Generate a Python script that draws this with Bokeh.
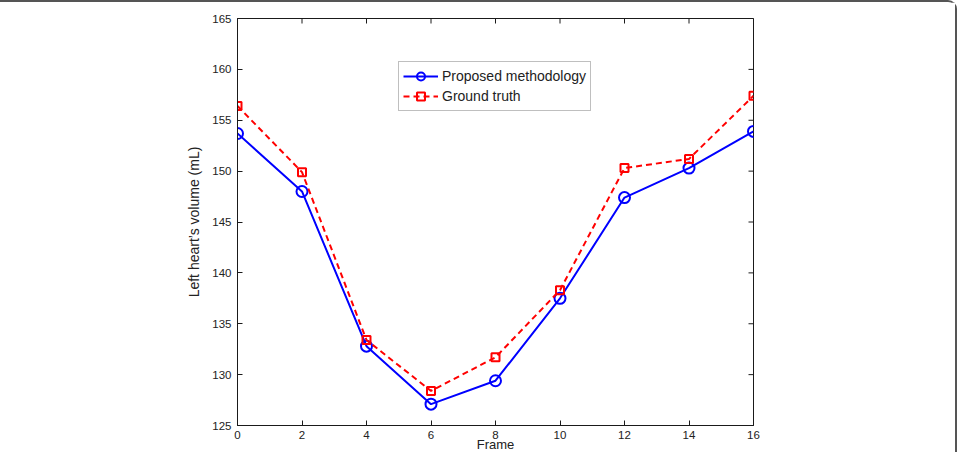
import math
from bokeh.plotting import figure
from bokeh.models import Legend, LegendItem, FixedTicker
from bokeh.embed import file_html
from bokeh.resources import INLINE

frames = [0, 2, 4, 6, 8, 10, 12, 14, 16]
proposed = [153.7, 148.0, 132.8, 127.1, 129.4, 137.5, 147.4, 150.3, 153.9]
ground_truth = [156.4, 149.9, 133.4, 128.4, 131.7, 138.3, 150.3, 151.2, 157.4]
x_ticks = [0, 2, 4, 6, 8, 10, 12, 14, 16]
y_ticks = [125, 130, 135, 140, 145, 150, 155, 160, 165]
x_label = "Frame"
y_label = "Left heart\u2019s volume (mL)"

FONT = "Liberation Sans"
AX = "#1a1a1a"

p = figure(width=957, height=452, output_backend="svg", toolbar_location=None,
           x_range=(0, 16), y_range=(125, 165),
           min_border_left=237, min_border_right=204, min_border_top=16, min_border_bottom=28)
p.styles = {"border-top": "2px solid #555555", "border-right": "2px solid #555555",
            "border-top-right-radius": "9px"}

p.xgrid.visible = False
p.ygrid.visible = False
p.outline_line_color = AX
p.outline_line_width = 1

for ax in p.xaxis + p.yaxis:
    ax.major_tick_in = 5
    ax.major_tick_out = 0
    ax.minor_tick_line_color = None
    ax.axis_line_color = AX
    ax.major_tick_line_color = AX
    ax.major_label_text_font = FONT
    ax.major_label_text_font_size = "11.5px"
    ax.major_label_text_color = "#222222"
    ax.axis_label_text_font = FONT
    ax.axis_label_text_font_style = "normal"
    ax.axis_label_text_color = "#222222"
p.xaxis.ticker = FixedTicker(ticks=x_ticks)
p.yaxis.ticker = FixedTicker(ticks=y_ticks)
p.xaxis.major_label_standoff = 5
p.yaxis.major_label_standoff = 6
p.yaxis.axis_label = y_label
p.yaxis.axis_label_text_font_size = "14px"
p.yaxis.axis_label_standoff = 7
p.xaxis.axis_label = x_label
p.xaxis.axis_label_text_font_size = "13px"
p.xaxis.axis_label_standoff = -5

# inward ticks on the top and right edges of the box (half of each dash is clipped)
p.scatter(x_ticks, [165] * len(x_ticks), marker="dash", angle=math.pi / 2, size=10,
          line_color=AX, line_width=1)
p.scatter([16] * len(y_ticks), y_ticks, marker="dash", size=10,
          line_color=AX, line_width=1)

bl = p.line(frames, proposed, line_color="#0000ff", line_width=2)
bc = p.scatter(frames, proposed, marker="circle", size=11, line_color="#0000ff",
               line_width=2, fill_color=None)
rl = p.line(frames, ground_truth, line_color="#ff0000", line_width=2, line_dash="6 4")
rs = p.scatter(frames, ground_truth, marker="square", size=8, line_color="#ff0000",
               line_width=2, fill_color=None)

legend = Legend(items=[LegendItem(label="Proposed methodology", renderers=[bl, bc]),
                       LegendItem(label="Ground truth", renderers=[rl, rs])],
                location=(161, 314), orientation="vertical",
                label_text_font=FONT, label_text_font_size="14px", label_text_color="#222222",
                glyph_width=35, glyph_height=20, label_height=20, label_standoff=4,
                spacing=0, padding=4, margin=0,
                border_line_color="#808080", border_line_width=1,
                background_fill_color="white", background_fill_alpha=1)
p.add_layout(legend, "center")

open("out.html", "w").write(file_html(p, INLINE))
